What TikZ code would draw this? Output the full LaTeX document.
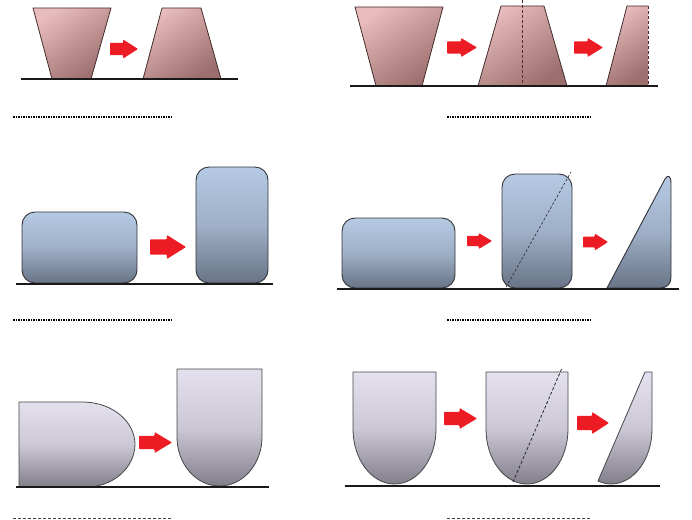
\documentclass[tikz,border=0pt]{standalone}
\begin{document}
\definecolor{pinkL}{RGB}{232,188,188}
\definecolor{pinkD}{RGB}{156,110,110}
\definecolor{pinkS}{RGB}{70,45,45}
\definecolor{blueL}{RGB}{182,202,228}
\definecolor{blueD}{RGB}{104,116,134}
\definecolor{blueS}{RGB}{50,50,55}
\definecolor{lavL}{RGB}{228,224,238}
\definecolor{lavD}{RGB}{130,126,138}
\definecolor{lavS}{RGB}{70,70,75}
\definecolor{arrowred}{RGB}{237,28,36}
\newcommand\redarrow[4]{%
 \fill[arrowred, rounded corners=0.8pt] ({#1-#3/2},{#2-0.32*#4}) -- ({#1-0.03*#3},{#2-0.32*#4}) -- ({#1-0.03*#3},{#2-#4/2}) -- ({#1+#3/2},{#2}) -- ({#1-0.03*#3},{#2+#4/2}) -- ({#1-0.03*#3},{#2+0.32*#4}) -- ({#1-#3/2},{#2+0.32*#4}) -- cycle;}
\begin{tikzpicture}[x=1pt,y=-1pt,
  pinkshade/.style={top color=pinkL,bottom color=pinkD,shading angle=35},
  pinkline/.style={draw=pinkS,line width=0.8pt,line join=round},
  pinkshape/.style={pinkshade,pinkline},
  pinkdash/.style={draw=pinkS!90!red,line width=0.8pt,dash pattern=on 3pt off 2pt},
  bluefill/.style={top color=blueL,bottom color=blueD,middle color=blueL!70!blueD},
  blueshape/.style={bluefill,draw=blueS,line width=0.9pt,rounded corners=13pt},
  blueplain/.style={bluefill,draw=blueS,line width=0.9pt,line join=round},
  bluedash/.style={draw=blueS,line width=0.7pt,dash pattern=on 2.5pt off 2pt},
  lavshape/.style={top color=lavL,bottom color=lavD,middle color=lavL!75!lavD,draw=lavS,line width=0.8pt,line join=round},
  lavdash/.style={draw=black!85,line width=0.8pt,dash pattern=on 3pt off 2pt},
  ground/.style={draw=black!90,line width=1.6pt},
  dotline/.style={draw=black,line width=2pt,dash pattern=on 1.5pt off 1pt},
  dashline/.style={draw=black!75,line width=0.7pt,dash pattern=on 3pt off 2pt}]
\useasboundingbox (0,0) rectangle (692,519);
% ---------------- Row 1 left
\path[pinkshape] (33,8) -- (111,8) -- (91,79) -- (52,79) -- cycle;
\redarrow{124}{49}{28}{19}
\path[pinkshape] (162,8) -- (201,8) -- (221,79) -- (143,79) -- cycle;
\draw[ground] (21,79) -- (238,79);
\draw[dotline] (13,117) -- (173,117);
% ---------------- Row 1 right
\path[pinkshape] (355,7) -- (443,7) -- (422,86) -- (376,86) -- cycle;
\redarrow{462}{47.5}{30}{19}
\path[pinkshape] (501,6) -- (544,6) -- (567,86) -- (478,86) -- cycle;
\draw[pinkdash] (522,0) -- (522,86);
\redarrow{588.5}{47.5}{29}{19}
\path[pinkshade] (627,6) -- (648,6) -- (648,86) -- (606,86) -- cycle;
\path[pinkline] (648,6) -- (627,6) -- (606,86) -- (648,86);
\draw[pinkdash] (648,6) -- (648,86);
\draw[ground] (350,86) -- (658,86);
\draw[dotline] (447,117) -- (591,117);
% ---------------- Row 2 left
\path[blueshape] (22,212) rectangle (137,283);
\redarrow{168}{247}{36}{24}
\path[blueshape] (196,167) rectangle (268,283);
\draw[ground] (16,284) -- (273,284);
\draw[dotline] (13,320) -- (173,320);
% ---------------- Row 2 right
\path[blueshape] (342,218) rectangle (455,288);
\redarrow{479.5}{241}{25}{16}
\path[blueshape] (502,174) rectangle (572,288);
\draw[bluedash] (506,287) -- (571,172);
\redarrow{595.5}{242}{25}{17}
\path[blueplain] (607,288) -- (665,179) .. controls (667.5,174.5) and (671,175) .. (671,184) -- (671,277) .. controls (671,284) and (667,288) .. (660,288) -- cycle;
\draw[ground] (337,289) -- (679,289);
\draw[dotline] (447,320) -- (590,320);
% ---------------- Row 3 left
\path[lavshape] (19,402) -- (82,402) .. controls (114,402) and (135,423) .. (135,444) .. controls (135,467) and (114,487) .. (86,487) -- (19,487) -- cycle;
\redarrow{155.5}{442.5}{33}{21}
\path[lavshape] (177,369) -- (262,369) -- (262,437) .. controls (262,464) and (243,486) .. (219.5,486) .. controls (196,486) and (177,464) .. (177,437) -- cycle;
\draw[ground] (16,487) -- (269,487);
\draw[dashline] (13,518) -- (173,518);
% ---------------- Row 3 right
\path[lavshape] (353,372) -- (436,372) -- (436,429) .. controls (436,459.4) and (417.4,484) .. (394.5,484) .. controls (371.6,484) and (353,459.4) .. (353,429) -- cycle;
\redarrow{460.5}{418.5}{33}{21}
\path[lavshape] (486,372) -- (568,372) -- (568,429) .. controls (568,459.4) and (549.6,484) .. (527,484) .. controls (504.4,484) and (486,459.4) .. (486,429) -- cycle;
\draw[lavdash] (513,482) -- (562,368);
\redarrow{593}{423}{32}{22}
\path[lavshape] (645,372) -- (652,372) -- (652,429) .. controls (652,459.4) and (633.6,484) .. (611,484) .. controls (606,484) and (602,482.5) .. (598,481) -- cycle;
\draw[ground] (345,486) -- (660,486);
\draw[dashline] (447,518) -- (590,518);
\end{tikzpicture}
\end{document}
